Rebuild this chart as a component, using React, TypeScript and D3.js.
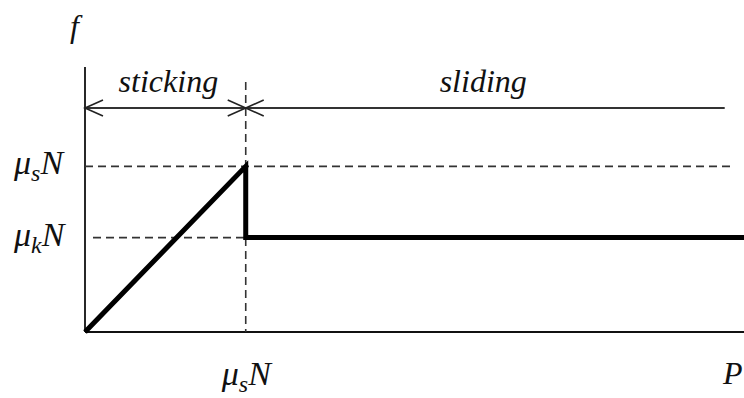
import * as d3 from "d3";

// friction force f against applied load P (units of mu_s N)
const muS = 1.0;
const muK = 0.57;
const pMax = 4.1;
const fMax = 1.6;
const curveP = [0, muS, muS, pMax];
const curveF = [0, muS, muK, muK];
const regionLabels = ["sticking", "sliding"];
const regionEnds = [0, muS, 3.98];

const width = 744;
const height = 398;
const font = "Liberation Serif";
const ink = "#111";

const x = d3.scaleLinear().domain([0, pMax]).range([85, 744]);
const y = d3.scaleLinear().domain([0, fMax]).range([332, 67]);

const MuLabel = ({ lx, ly, sub }: { lx: number; ly: number; sub: string }) => (
  <text x={lx} y={ly} fontFamily={font} fontStyle="italic" fontSize={34} fill={ink}>
    <tspan>μ</tspan>
    <tspan dy={7} fontSize={24}>{sub}</tspan>
    <tspan dy={-7}>N</tspan>
  </text>
);

const App = () => {
  const line = d3.line<number>().x((d, i) => x(curveP[i])).y((d) => y(d));
  const ay = 108;
  const dash = "8,5";
  const arrow = (tipX: number, dir: number) =>
    `M${tipX + dir * 18},${ay - 8}L${tipX},${ay}L${tipX + dir * 18},${ay + 8}`;

  return (
    <div style={{ position: "fixed", left: 0, top: 0, background: "#fff" }}>
      <svg width={width} height={height} style={{ display: "block" }}>
        {/* axes */}
        <line x1={x(0)} x2={x(0)} y1={y(fMax)} y2={y(0)} stroke={ink} strokeWidth={1.8} />
        <line x1={x(0)} x2={width} y1={y(0)} y2={y(0)} stroke={ink} strokeWidth={1.8} />

        {/* dashed guides */}
        <line x1={x(0)} x2={733} y1={y(muS)} y2={y(muS)} stroke="#333" strokeWidth={1.6} strokeDasharray={dash} />
        <line x1={x(0) + 8} x2={x(muS)} y1={y(muK)} y2={y(muK)} stroke="#333" strokeWidth={1.6} strokeDasharray={dash} />
        <line x1={x(muS)} x2={x(muS)} y1={82} y2={y(0)} stroke="#333" strokeWidth={1.6} strokeDasharray={dash} />

        {/* region arrows */}
        <line x1={x(regionEnds[0])} x2={x(regionEnds[2])} y1={ay} y2={ay} stroke="#333" strokeWidth={1.8} />
        {[
          [x(regionEnds[0]), 1],
          [x(regionEnds[1]), -1],
          [x(regionEnds[1]), 1],
        ].map(([tx, dir], i) => (
          <path key={i} d={arrow(tx, dir)} fill="none" stroke="#222" strokeWidth={1.6} />
        ))}
        {regionLabels.map((lab, i) => (
          <text
            key={lab}
            x={(x(regionEnds[i]) + x(regionEnds[i + 1])) / 2 + (i === 0 ? 3 : -2)}
            y={92}
            textAnchor="middle"
            fontFamily={font}
            fontStyle="italic"
            fontSize={32}
            fill={ink}
          >
            {lab}
          </text>
        ))}

        {/* friction curve */}
        <path d={line(curveF) ?? ""} fill="none" stroke="#000" strokeWidth={5} strokeLinejoin="miter" />

        {/* labels */}
        <MuLabel lx={14} ly={y(muS) + 8} sub="s" />
        <MuLabel lx={14} ly={y(muK) + 8} sub="k" />
        <MuLabel lx={x(muS) - 24} ly={385} sub="s" />
        <text x={70} y={37} fontFamily={font} fontStyle="italic" fontSize={32} fill={ink}>f</text>
        <text x={723} y={384} fontFamily={font} fontStyle="italic" fontSize={32} fill={ink}>P</text>
      </svg>
    </div>
  );
};

export default App;
